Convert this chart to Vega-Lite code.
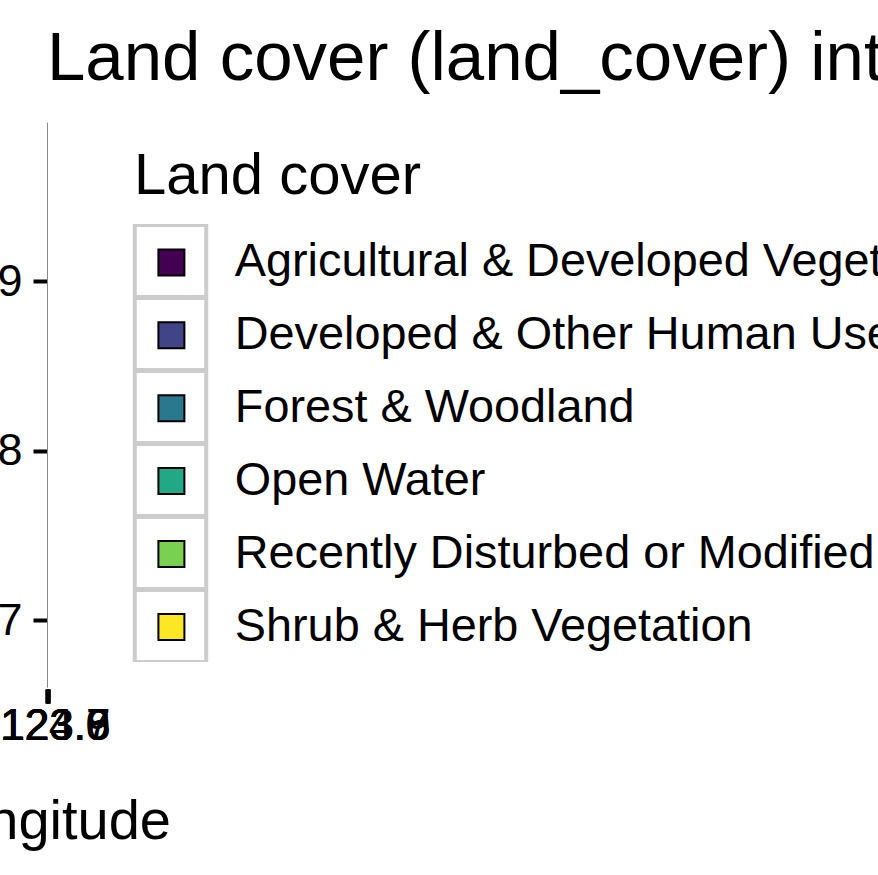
{
  "$schema": "https://vega.github.io/schema/vega-lite/v6.json",
  "autosize": {"type": "none"},
  "width": 1,
  "height": 565,
  "padding": {"left": 47, "top": 122, "right": 830, "bottom": 188},
  "background": "white",
  "config": {"font": "Liberation Sans", "view": {"stroke": null}},
  "title": {
    "text": "Land cover (land_cover) intersecting the study area",
    "anchor": "start",
    "frame": "group",
    "font": "Liberation Sans",
    "fontSize": 69,
    "fontWeight": "normal",
    "color": "black",
    "baseline": "alphabetic",
    "offset": -27,
    "limit": 5000
  },
  "data": {
    "values": [
      {"lon": -123.98, "lat": 48.96, "land_cover": "Forest & Woodland"},
      {"lon": -123.92, "lat": 48.91, "land_cover": "Forest & Woodland"},
      {"lon": -123.86, "lat": 48.87, "land_cover": "Shrub & Herb Vegetation"},
      {"lon": -123.81, "lat": 48.83, "land_cover": "Forest & Woodland"},
      {"lon": -123.77, "lat": 48.79, "land_cover": "Recently Disturbed or Modified"},
      {"lon": -123.72, "lat": 48.78, "land_cover": "Developed & Other Human Use"},
      {"lon": -123.69, "lat": 48.76, "land_cover": "Agricultural & Developed Vegetation"},
      {"lon": -123.66, "lat": 48.74, "land_cover": "Open Water"},
      {"lon": -123.63, "lat": 48.71, "land_cover": "Agricultural & Developed Vegetation"},
      {"lon": -123.6, "lat": 48.68, "land_cover": "Open Water"},
      {"lon": -123.9, "lat": 48.72, "land_cover": "Recently Disturbed or Modified"},
      {"lon": -123.75, "lat": 48.93, "land_cover": "Shrub & Herb Vegetation"},
      {"lon": -123.68, "lat": 48.85, "land_cover": "Developed & Other Human Use"},
      {"lon": -123.95, "lat": 48.8, "land_cover": "Forest & Woodland"}
    ]
  },
  "mark": {"type": "point", "filled": true, "size": 30, "opacity": 1, "clip": true},
  "encoding": {
    "x": {
      "field": "lon",
      "type": "quantitative",
      "scale": {"domain": [-124.05, -123.55], "nice": false, "zero": false},
      "axis": {
        "values": [-124.0, -123.9, -123.8, -123.7, -123.6],
        "labelExpr": "'-' + format(abs(datum.value), '.1f')",
        "labelOverlap": false,
        "labelFlush": false,
        "labelBound": false,
        "grid": false,
        "domain": false,
        "ticks": true,
        "tickColor": "black",
        "tickWidth": 4,
        "tickSize": 14,
        "offset": 2,
        "labelFont": "Liberation Sans",
        "labelFontSize": 44,
        "labelColor": "black",
        "labelPadding": 1,
        "title": "Longitude",
        "titleFont": "Liberation Sans",
        "titleFontSize": 56,
        "titleFontWeight": "normal",
        "titleColor": "black",
        "titlePadding": 46,
        "zindex": 1
      }
    },
    "y": {
      "field": "lat",
      "type": "quantitative",
      "scale": {"domain": [48.6605, 48.994], "nice": false, "zero": false},
      "axis": {
        "values": [48.7, 48.8, 48.9],
        "labelExpr": "format(datum.value, '.1f')",
        "labelOverlap": false,
        "labelFlush": false,
        "grid": false,
        "domain": true,
        "domainColor": "#888888",
        "domainWidth": 1,
        "tickColor": "black",
        "tickWidth": 4,
        "tickSize": 14,
        "labelFont": "Liberation Sans",
        "labelFontSize": 45,
        "labelColor": "black",
        "labelPadding": 11,
        "title": "Latitude",
        "titleFont": "Liberation Sans",
        "titleFontSize": 56,
        "titleFontWeight": "normal",
        "titleColor": "black",
        "zindex": 1
      }
    },
    "color": {
      "field": "land_cover",
      "type": "nominal",
      "scale": {"range": ["#440154", "#414487", "#2A788E", "#22A884", "#7AD151", "#FDE725"]},
      "legend": {
        "title": null,
        "orient": "none",
        "legendX": 101,
        "legendY": 117,
        "padding": 0,
        "symbolType": "square",
        "symbolSize": 676,
        "symbolStrokeColor": "black",
        "symbolStrokeWidth": 2,
        "symbolOpacity": 1,
        "labelFont": "Liberation Sans",
        "labelFontSize": 46.8,
        "labelColor": "black",
        "labelLimit": 3000,
        "labelOffset": 40,
        "rowPadding": 24.9,
        "zindex": 2
      }
    },
    "shape": {
      "field": "land_cover",
      "type": "nominal",
      "scale": {
        "domain": ["Agricultural & Developed Vegetation", "Developed & Other Human Use", "Forest & Woodland", "Open Water", "Recently Disturbed or Modified", "Shrub & Herb Vegetation"],
        "range": [
          "M-1.037,-1H1.037V1H-1.037ZM-0.927,-0.9176V0.945H0.927V-0.9176Z",
          "M-1.037,-1H1.037V1H-1.037ZM-0.927,-0.9176V0.945H0.927V-0.9176Z",
          "M-1.037,-1H1.037V1H-1.037ZM-0.927,-0.9176V0.945H0.927V-0.9176Z",
          "M-1.037,-1H1.037V1H-1.037ZM-0.927,-0.9176V0.945H0.927V-0.9176Z",
          "M-1.037,-1H1.037V1H-1.037ZM-0.927,-0.9176V0.945H0.927V-0.9176Z",
          "M-1.037,-1H1.037V1H-1.037ZM-0.927,-0.9176V0.945H0.927V-0.9176Z"
        ]
      },
      "legend": {
        "title": "Land cover",
        "orient": "none",
        "legendX": 87,
        "legendY": 26,
        "padding": 0,
        "titleFont": "Liberation Sans",
        "titleFontSize": 58,
        "titleFontWeight": "normal",
        "titleColor": "black",
        "titleLimit": 3000,
        "titlePadding": 18,
        "symbolType": "M-1.037,-1H1.037V1H-1.037ZM-0.927,-0.9176V0.945H0.927V-0.9176Z",
        "symbolSize": 5300,
        "symbolFillColor": "#CCCCCC",
        "symbolStrokeColor": "transparent",
        "symbolStrokeWidth": 0,
        "symbolOpacity": 1,
        "labelExpr": "''",
        "labelFontSize": 1,
        "rowPadding": 0,
        "zindex": 1,
        "encode": {
          "symbols": {
            "update": {
              "fill": {"value": "#CCCCCC"},
              "fillOpacity": {"value": 1},
              "stroke": {"value": "transparent"},
              "strokeWidth": {"value": 0},
              "opacity": {"value": 1}
            }
          }
        }
      }
    }
  }
}
